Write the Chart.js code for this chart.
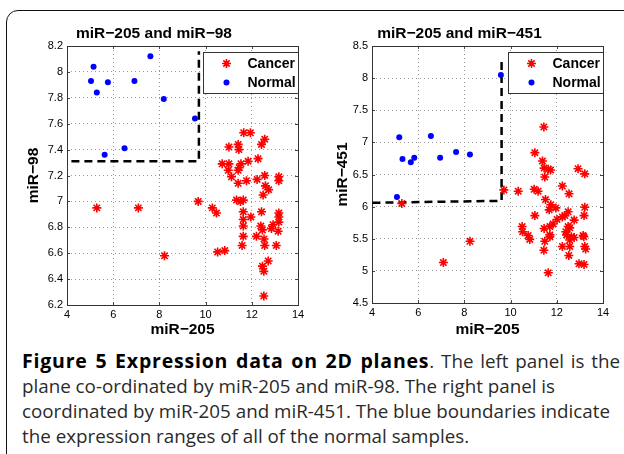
<!DOCTYPE html>
<html>
<head>
<meta charset="utf-8">
<script src="https://cdn.jsdelivr.net/npm/chart.js"></script>
<style>
  body { margin: 0; background: #fff; }
  #page { position: relative; width: 624px; height: 454px; overflow: hidden; background: #fff; }
  #frame { position: absolute; left: 6px; top: 10px; width: 630px; height: 480px;
           border: 1.5px solid #111; border-radius: 12px; }
  canvas { position: absolute; }
  #left { left: 10px; top: 10px; }
  #right { left: 316px; top: 10px; }
  #caption { position: absolute; left: 22px; top: 348px; white-space: nowrap;
             font-family: "Open Sans", sans-serif; font-size: 18.8px; line-height: 25px; color: #2a2a2a; }
  #caption .l1 { width: 598px; text-align: justify; text-align-last: justify; }
  #caption b { color: #000; font-size: 19.5px; letter-spacing: 0.8px; }
</style>
</head>
<body>
<div id="page">
  <div id="frame"></div>
  <canvas id="left" width="300" height="330"></canvas>
  <canvas id="right" width="308" height="330"></canvas>
  <div id="caption">
    <div class="l1"><b>Figure 5 Expression data on 2D planes</b>. The left panel is the</div>
    <div>plane co-ordinated by miR-205 and miR-98. The right panel is</div>
    <div>coordinated by miR-205 and miR-451. The blue boundaries indicate</div>
    <div>the expression ranges of all of the normal samples.</div>
  </div>
</div>
<script>
// miR-205 vs miR-98
const cancerX98 = [5.29, 7.09, 8.22, 11.65, 11.94, 12.56, 12.42, 11.01, 11.41, 11.44, 12.27, 11.84, 10.72, 11.01, 11.53,
  11.45, 11.41, 10.98, 11.12, 11.77, 11.41, 12.23, 12.56, 13.17, 13.17, 12.59, 12.73, 12.49, 9.68, 11.34, 11.51, 11.63,
  10.29, 10.47, 11.63, 12.42, 11.96, 11.63, 13.17, 13.17, 13.17, 12.92, 12.39, 12.46, 11.63, 12.85, 13.14, 11.63, 12.20,
  12.53, 12.56, 11.58, 13.06, 10.52, 10.83, 12.71, 12.46, 12.52, 12.52];
const cancer98 = [6.95, 6.95, 6.58, 7.53, 7.53, 7.48, 7.44, 7.42, 7.44, 7.40, 7.33, 7.31, 7.29, 7.29, 7.29,
  7.26, 7.24, 7.24, 7.19, 7.16, 7.14, 7.17, 7.20, 7.19, 7.16, 7.12, 7.09, 7.05, 7.00, 7.01, 7.00, 7.01,
  6.95, 6.91, 6.92, 6.92, 6.88, 6.86, 6.91, 6.88, 6.84, 6.82, 6.81, 6.78, 6.81, 6.79, 6.77, 6.73, 6.73,
  6.71, 6.66, 6.66, 6.66, 6.61, 6.62, 6.54, 6.50, 6.46, 6.27];
const normalX98 = [5.04, 5.15, 5.29, 5.63, 5.77, 6.49, 6.92, 7.61, 8.19, 9.54];
const normal98 = [7.93, 8.04, 7.84, 7.36, 7.92, 7.41, 7.93, 8.12, 7.79, 7.64];
const boundX98 = [4.19, 9.71, 9.71];
const boundY98 = [7.31, 7.31, 8.16];

// miR-205 vs miR-451
const cancerX451 = [5.29, 7.09, 8.24, 11.44, 11.05, 11.38, 11.45, 11.63, 11.73, 11.48, 12.92, 13.21, 9.71, 10.33, 11.02,
  11.19, 12.24, 12.53, 11.51, 11.74, 11.67, 11.96, 13.21, 13.18, 11.05, 12.49, 12.35, 12.24, 12.75, 12.01, 11.84, 11.70,
  10.50, 10.52, 11.45, 12.49, 12.56, 12.39, 11.70, 11.70, 10.76, 10.83, 12.42, 12.63, 13.14, 13.17, 12.56, 12.75, 11.48,
  12.24, 12.56, 13.21, 13.25, 11.44, 12.52, 12.96, 13.18, 11.63];
const cancer451 = [6.05, 5.13, 5.46, 7.24, 6.84, 6.71, 6.60, 6.58, 6.57, 6.46, 6.59, 6.51, 6.26, 6.24, 6.27,
  6.24, 6.32, 6.20, 6.11, 6.03, 5.95, 5.98, 5.99, 5.86, 5.86, 5.92, 5.86, 5.84, 5.79, 5.80, 5.73, 5.69,
  5.69, 5.61, 5.66, 5.69, 5.67, 5.61, 5.56, 5.53, 5.55, 5.49, 5.56, 5.53, 5.55, 5.53, 5.48, 5.52, 5.46,
  5.38, 5.38, 5.38, 5.34, 5.32, 5.24, 5.11, 5.10, 4.97];
const normalX451 = [5.08, 5.18, 5.32, 5.68, 5.83, 6.55, 6.95, 7.64, 8.24, 9.58];
const normal451 = [6.15, 7.08, 6.74, 6.69, 6.76, 7.10, 6.76, 6.85, 6.81, 8.05];
const boundX451 = [4.02, 9.61, 9.61];
const boundY451 = [6.06, 6.09, 8.26];

const xTicks = [4, 6, 8, 10, 12, 14];

const FONT = "'Liberation Sans', Arial, sans-serif";
const toPts = (xs, ys) => xs.map((x, i) => ({ x: x, y: ys[i] }));

// MATLAB-like box with inward tick marks
const boxPlugin = {
  id: "box",
  beforeDatasetsDraw(chart) {
    const { ctx, chartArea: a, scales } = chart;
    ctx.save();
    ctx.strokeStyle = "#444";
    ctx.lineWidth = 1;
    ctx.beginPath();
    scales.x.ticks.forEach(t => {
      const px = Math.round(scales.x.getPixelForValue(t.value)) + 0.5;
      ctx.moveTo(px, a.bottom); ctx.lineTo(px, a.bottom - 3);
      ctx.moveTo(px, a.top); ctx.lineTo(px, a.top + 3);
    });
    scales.y.ticks.forEach(t => {
      const py = Math.round(scales.y.getPixelForValue(t.value)) + 0.5;
      ctx.moveTo(a.left, py); ctx.lineTo(a.left + 3, py);
      ctx.moveTo(a.right, py); ctx.lineTo(a.right - 3, py);
    });
    ctx.stroke();
    ctx.strokeStyle = "#333";
    ctx.strokeRect(Math.round(a.left) + 0.5, Math.round(a.top) + 0.5,
      Math.round(a.right - a.left), Math.round(a.bottom - a.top));
    ctx.restore();
  }
};

// legend boxed in the upper right corner of the axes
const legendPlugin = {
  id: "boxLegend",
  afterDraw(chart) {
    const { ctx, chartArea: a } = chart;
    const w = 95, h = 41;
    const x0 = Math.round(a.right - w) + 0.5, y0 = Math.round(a.top + 6) + 0.5;
    ctx.save();
    ctx.fillStyle = "#fff";
    ctx.fillRect(x0, y0, w, h);
    ctx.strokeStyle = "#333";
    ctx.lineWidth = 1;
    ctx.strokeRect(x0, y0, w, h);
    let row = 0;
    chart.data.datasets.forEach(ds => {
      if (!ds.label) return;
      const cy = y0 + 11 + row * 19;
      const cx = x0 + 23;
      if (ds.pointStyle === "star") {
        const r = ds.pointRadius;
        ctx.strokeStyle = ds.borderColor;
        ctx.lineWidth = ds.borderWidth;
        ctx.beginPath();
        for (let k = 0; k < 4; k++) {
          const ang = k * Math.PI / 4;
          ctx.moveTo(cx - r * Math.cos(ang), cy - r * Math.sin(ang));
          ctx.lineTo(cx + r * Math.cos(ang), cy + r * Math.sin(ang));
        }
        ctx.stroke();
      } else {
        ctx.fillStyle = ds.backgroundColor;
        ctx.beginPath();
        ctx.arc(cx, cy, ds.pointRadius, 0, Math.PI * 2);
        ctx.fill();
      }
      ctx.fillStyle = "#000";
      ctx.font = "bold 14px " + FONT;
      ctx.textBaseline = "middle";
      ctx.textAlign = "left";
      ctx.fillText(ds.label, x0 + 44, cy + 0.5);
      row++;
    });
    ctx.restore();
  }
};

function makePanel(id, o) {
  const ctx = document.getElementById(id).getContext("2d");
  return new Chart(ctx, {
    type: "scatter",
    data: {
      datasets: [{
        label: "Cancer",
        data: toPts(o.cancerX, o.cancerY),
        pointStyle: "star",
        pointRadius: 4.5,
        borderColor: "#ff0000",
        backgroundColor: "#ff0000",
        borderWidth: 1.6,
      }, {
        label: "Normal",
        data: toPts(o.normalX, o.normalY),
        pointStyle: "circle",
        pointRadius: 3,
        borderWidth: 0,
        borderColor: "#0000ff",
        backgroundColor: "#0000ff",
      }, {
        label: "",
        data: toPts(o.boundX, o.boundY),
        showLine: true,
        pointRadius: 0,
        borderColor: "#000",
        borderWidth: 2.5,
        borderDash: [8, 5],
        fill: false,
      }]
    },
    options: {
      responsive: false,
      animation: false,
      devicePixelRatio: 1,
      layout: {
        padding: { top: 0, left: 0, bottom: 0, right: o.padRight }
      },
      scales: {
        x: {
          type: "linear",
          min: 4,
          max: 14,
          afterBuildTicks: (scale) => { scale.ticks = xTicks.map(v => ({ value: v })); },
          afterFit: (scale) => { scale.height = o.xHeight; },
          ticks: { font: { family: FONT, size: 11 }, color: "#000", padding: 3, maxRotation: 0 },
          grid: { color: "#9a9a9a", drawTicks: false },
          border: { display: false, dash: [1, 3] },
          title: {
            display: true,
            text: "miR\u2212205",
            font: { family: FONT, size: 15.5, weight: "bold" },
            color: "#000",
            padding: { top: 0, bottom: 1 },
          },
        },
        y: {
          type: "linear",
          min: o.yMin,
          max: o.yMax,
          ticks: {
            stepSize: o.yStep,
            font: { family: FONT, size: 11 },
            color: "#000",
            padding: 4,
            callback: (v) => String(Number(v.toFixed(2))),
          },
          afterFit: (scale) => { scale.width = o.yWidth; },
          grid: { color: "#9a9a9a", drawTicks: false },
          border: { display: false, dash: [1, 3] },
          title: {
            display: true,
            text: o.yLabel,
            font: { family: FONT, size: 15.5, weight: "bold" },
            color: "#000",
            padding: { top: o.yTitlePad, bottom: 0 },
          },
        }
      },
      plugins: {
        legend: { display: false },
        tooltip: { enabled: false },
        title: {
          display: true,
          text: o.title,
          font: { family: FONT, size: 15.5, weight: "bold" },
          color: "#000",
          padding: { top: 14, bottom: 3.4 },
        },
      },
    },
    plugins: [boxPlugin, legendPlugin],
  });
}

makePanel("left", {
  cancerX: cancerX98, cancerY: cancer98,
  normalX: normalX98, normalY: normal98,
  boundX: boundX98, boundY: boundY98,
  yMin: 6.2, yMax: 8.2, yStep: 0.2,
  yLabel: "miR\u221298",
  title: "miR\u2212205 and miR\u221298",
  yWidth: 57, xHeight: 35, padRight: 12, yTitlePad: 14,
});

makePanel("right", {
  cancerX: cancerX451, cancerY: cancer451,
  normalX: normalX451, normalY: normal451,
  boundX: boundX451, boundY: boundY451,
  yMin: 4.5, yMax: 8.5, yStep: 0.5,
  yLabel: "miR\u2212451",
  title: "miR\u2212205 and miR\u2212451",
  yWidth: 56, xHeight: 37, padRight: 21, yTitlePad: 17,
});
</script>
</body>
</html>
